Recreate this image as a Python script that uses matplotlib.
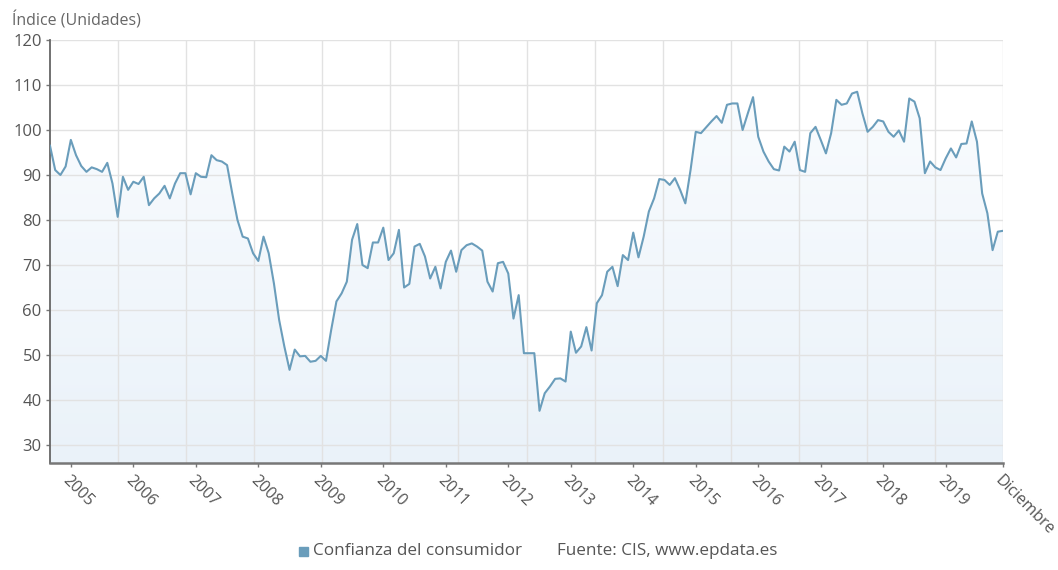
import matplotlib
matplotlib.use("Agg")
import matplotlib.pyplot as plt
import numpy as np
from matplotlib.colors import LinearSegmentedColormap
from matplotlib.patches import Rectangle

plt.rcParams["font.family"] = ["Open Sans", "DejaVu Sans"]

# Índice de confianza del consumidor (CIS), mensual, sep 2004 - dic 2019
values = [
    96.5, 91.1, 90.0, 91.9,
    97.8, 94.4, 92.0, 90.7, 91.7, 91.3, 90.7, 92.7, 88.1, 80.7, 89.6, 86.7,
    88.5, 88.0, 89.6, 83.3, 84.8, 85.9, 87.6, 84.8, 88.1, 90.4, 90.4, 85.7,
    90.4, 89.6, 89.5, 94.4, 93.3, 93.0, 92.2, 85.9, 80.0, 76.3, 75.9, 72.6,
    70.9, 76.3, 72.6, 65.9, 57.8, 51.9, 46.7, 51.2, 49.7, 49.8, 48.5, 48.7,
    49.8, 48.7, 55.6, 61.9, 63.7, 66.3, 75.6, 79.1, 70.0, 69.3, 75.0, 75.0,
    78.3, 71.1, 72.6, 77.8, 65.0, 65.8, 74.1, 74.7, 71.9, 67.0, 69.6, 64.8,
    70.7, 73.2, 68.5, 73.3, 74.4, 74.8, 74.1, 73.2, 66.3, 64.1, 70.4, 70.7,
    68.1, 58.1, 63.3, 50.4, 50.4, 50.4, 37.6, 41.5, 43.0, 44.7, 44.8, 44.1,
    55.2, 50.5, 51.9, 56.2, 51.0, 61.5, 63.3, 68.5, 69.6, 65.3, 72.2, 71.1,
    77.2, 71.7, 76.3, 81.9, 84.8, 89.1, 88.9, 87.8, 89.3, 86.7, 83.7, 91.1,
    99.6, 99.3, 100.6, 101.9, 103.1, 101.6, 105.6, 105.9, 105.9, 100.0, 103.7, 107.3,
    98.5, 95.2, 93.0, 91.3, 91.0, 96.3, 95.2, 97.4, 91.1, 90.7, 99.3, 100.7,
    97.8, 94.8, 99.3, 106.7, 105.6, 105.9, 108.1, 108.5, 103.7, 99.6, 100.7, 102.2,
    101.9, 99.6, 98.5, 99.9, 97.4, 107.0, 106.3, 102.6, 90.4, 93.0, 91.7, 91.1,
    93.7, 95.9, 93.9, 96.9, 97.0, 101.9, 97.4, 85.9, 81.5, 73.3, 77.4, 77.6,
]
first_month = 9  # septiembre 2004
year_labels = [str(y) for y in range(2005, 2020)]
last_label = "Diciembre"
y_ticks = [30, 40, 50, 60, 70, 80, 90, 100, 110, 120]

line_color = "#6a9dbb"
text_color = "#555555"

x = np.arange(len(values))
y = np.array(values)
y_min, y_max = 26, 120
x_max = len(values) - 1

fig = plt.figure(figsize=(10.58, 5.70), dpi=100)
ax = fig.add_axes([50 / 1058, 1 - 463 / 570, 953 / 1058, 423 / 570])

# degradado bajo la línea
poly = ax.fill_between(x, y, y_min, color="none", linewidth=0)
cmap = LinearSegmentedColormap.from_list("fill", ["#eaf2f9", "#fbfdff"])
grad = np.linspace(0, 1, 256).reshape(-1, 1)
im = ax.imshow(grad, extent=[0, x_max, y_min, y_max], origin="lower",
               cmap=cmap, aspect="auto", zorder=1)
im.set_clip_path(poly.get_paths()[0], transform=ax.transData)

ax.plot(x, y, color=line_color, linewidth=1.5, zorder=3)

# rejilla: horizontales en los ticks, verticales en 14 tramos iguales
for v in y_ticks:
    ax.axhline(v, color="#e2e2e2", linewidth=1.0, zorder=2)
for gx in np.linspace(0, x_max, 15)[1:]:
    ax.axvline(gx, color="#e2e2e2", linewidth=1.0, zorder=2)

ax.set_xlim(0, x_max)
ax.set_ylim(y_min, y_max)

year_pos = [(12 - first_month + 1) + 12 * k for k in range(len(year_labels))]
ax.set_xticks(year_pos + [x_max])
ax.set_xticklabels(year_labels + [last_label], rotation=-45, ha="left",
                   va="top", rotation_mode="anchor", fontsize=11.5,
                   color=text_color)
ax.set_yticks(y_ticks)
ax.set_yticklabels([str(v) for v in y_ticks], fontsize=12, color=text_color)
ax.tick_params(axis="x", length=3, width=1, color="#777777", pad=4)
ax.tick_params(axis="y", length=3, width=1, color="#777777", pad=3)

for side in ["top", "right"]:
    ax.spines[side].set_visible(False)
ax.spines["left"].set_color("#666666")
ax.spines["left"].set_linewidth(1.3)
ax.spines["bottom"].set_color("#777777")
ax.spines["bottom"].set_linewidth(1.8)

fig.text(12 / 1058, 1 - 20 / 570, "Índice (Unidades)", fontsize=11.5,
         color="#666666", va="center", ha="left")

# leyenda y fuente
fig.add_artist(Rectangle((299 / 1058, 1 - 556 / 570), 9 / 1058, 9 / 570,
                         transform=fig.transFigure, color=line_color))
fig.text(313 / 1058, 1 - 551 / 570, "Confianza del consumidor", fontsize=12.3,
         color=text_color, va="center", ha="left")
fig.text(557 / 1058, 1 - 551 / 570, "Fuente: CIS, www.epdata.es", fontsize=12.3,
         color=text_color, va="center", ha="left")

fig.savefig("out.png", dpi=100)
